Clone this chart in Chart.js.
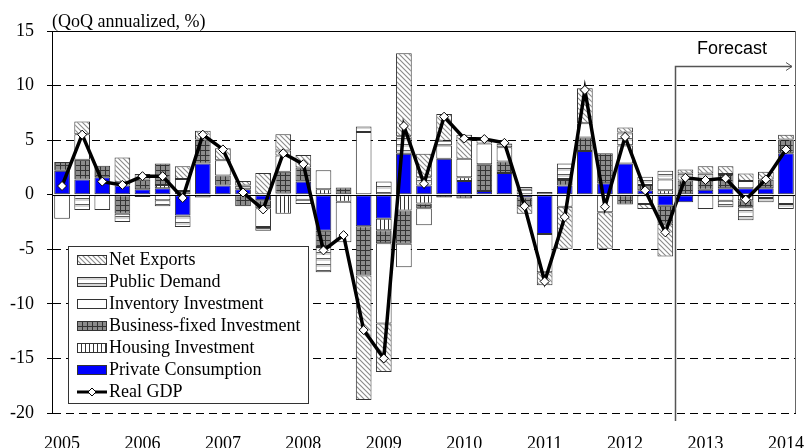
<!DOCTYPE html>
<html>
<head>
<meta charset="utf-8">
<script src="https://cdn.jsdelivr.net/npm/chart.js@4/dist/chart.umd.min.js"></script>
<style>
  html, body { margin: 0; padding: 0; background: #fff; }
  #wrap { position: relative; width: 806px; height: 448px; overflow: hidden; }
  #chart { position: absolute; left: 0; top: 0; }
  .note { position: absolute; white-space: nowrap; color: #000; line-height: 18px; }
  #unit { left: 52px; top: 12px; font-family: 'Liberation Serif', serif; font-size: 18px; }
  #forecast { left: 697px; top: 39px; font-family: 'Liberation Sans', Arial, sans-serif; font-size: 18px; }
  #legend { position: absolute; left: 68px; top: 246px; width: 241px; height: 158px; box-sizing: border-box;
            border: 1px solid #333; background: #fff; padding-top: 1px; }
  .item { display: flex; align-items: flex-start; height: 22px; line-height: 22px;
          font-family: 'Liberation Serif', serif; font-size: 18px; color: #000; white-space: nowrap; }
  .item canvas { margin: 7px 2px 0 8px; }
</style>
</head>
<body>
<div id="wrap">
  <canvas id="chart" width="806" height="448"></canvas>
  <div class="note" id="unit">(QoQ annualized, %)</div>
  <div class="note" id="forecast">Forecast</div>
  <div id="legend"></div>
</div>
<script>
const quarters = [
    '2005Q1', '2005Q2', '2005Q3', '2005Q4', '2006Q1', '2006Q2', '2006Q3', '2006Q4',
    '2007Q1', '2007Q2', '2007Q3', '2007Q4', '2008Q1', '2008Q2', '2008Q3', '2008Q4',
    '2009Q1', '2009Q2', '2009Q3', '2009Q4', '2010Q1', '2010Q2', '2010Q3', '2010Q4',
    '2011Q1', '2011Q2', '2011Q3', '2011Q4', '2012Q1', '2012Q2', '2012Q3', '2012Q4',
    '2013Q1', '2013Q2', '2013Q3', '2013Q4', '2014Q1'
];
const forecastFrom = '2012Q4';

const privateConsumption = [
    2.2, 1.4, 1.6, 0.85, 0.5, 0.6, -1.9, 2.85,
    0.85, 0.5, -0.5, 0.1, 1.2, -3.3, 0, -2.9,
    -2.2, 3.75, 0.85, 3.3, 1.25, 0.35, 2.0, -0.25,
    -3.6, 0.85, 4.0, 1.05, 2.85, 0.4, -1.0, -0.7,
    0.45, 0.6, 0.6, 0.6, 3.8
];
const housingInvestment = [
    0, 0, 0, 0, 0, 0.3, 0, 0,
    0, 0, 0, -1.75, 0, 0.5, -0.65, 0,
    -1.05, -1.45, -0.8, 0, 0.35, 0, 0, 0,
    0, 0, 0, 0, 0, 0, 0.4, 0,
    0, 0, -0.5, 0, 0
];
const businessInvestment = [
    0.8, 1.8, 1.05, -1.75, 0.9, 1.95, 0.35, 2.2,
    0.9, -1.05, -0.75, 2.0, 1.3, -1.5, 0.65, -4.5,
    -1.2, -3.05, -0.45, -0.25, -0.35, 2.45, 1.05, -0.8,
    0, 0.6, 1.25, 2.75, -0.9, 0.5, -1.65, 1.3,
    0.85, 1.3, -0.65, 0.8, 1.25
];
const inventoryInvestment = [
    -2.2, 2.35, -1.4, 0.3, -0.2, -0.5, 1.1, -0.25,
    1.4, 0, -1.7, 1.5, -0.45, 1.75, -3.7, 5.75,
    -7.35, -2.15, -1.55, 1.2, 1.7, 1.9, 1.3, 0.45,
    -3.5, -1.1, 1.3, -1.6, 1.65, -0.85, 1.0, 0,
    -1.3, -0.55, 0.65, -0.3, -0.85
];
const publicDemand = [
    0, -1.4, 0, -0.75, 0.5, -0.55, -1.05, 0,
    -0.15, 0.35, -0.35, 0.45, -0.4, -2.3, 0, 0.5,
    1.2, 1.6, 0.75, 0.45, 0, 0.35, 0.35, 0.25,
    0.25, 1.4, -0.15, 0, 1.2, 0.75, 0.8, 0.65,
    0.65, -0.6, -1.2, -0.4, -0.45
];
const netExports = [
    0, 1.15, 0, 2.25, 0, 0, 1.15, 0.8,
    1.1, 0.4, 2.0, 1.5, 1.15, 0, 0, -11.4,
    -4.45, 7.6, 2.15, 2.45, 2.2, 0, 0, -0.7,
    -1.2, -3.85, 3.2, -3.35, 0.45, -0.45, -3.0, 0.35,
    0.65, 0.7, 0.7, 0.7, 0.45
];
const realGDP = [
    0.8, 5.5, 1.2, 0.9, 1.7, 1.7, -0.3, 5.5,
    4.15, 0.2, -1.35, 3.8, 2.8, -5.1, -3.7, -12.4,
    -15.0, 6.3, 1.0, 7.15, 5.15, 5.1, 4.75, -1.05,
    -7.95, -2.05, 9.6, -1.1, 5.3, 0.4, -3.45, 1.55,
    1.35, 1.5, -0.45, 1.4, 4.15
];

const Y_MIN = -20, Y_MAX = 15, Y_STEP = 5;

// pattern tiles for the stacked components
function makeTile(kind) {
    const c = document.createElement('canvas');
    const g = c.getContext('2d');
    if (kind === 'nx') {
        c.width = 5; c.height = 5;
        g.fillStyle = '#fff'; g.fillRect(0, 0, 5, 5);
        g.strokeStyle = '#8a8a8a'; g.lineWidth = 1.1;
        g.beginPath();
        g.moveTo(0, 0); g.lineTo(5, 5);
        g.moveTo(-1, 4); g.lineTo(1, 6);
        g.moveTo(4, -1); g.lineTo(6, 1);
        g.stroke();
    } else if (kind === 'public') {
        c.width = 1; c.height = 6;
        const rows = ['#5a5a5a', '#d6d6d6', '#d6d6d6', '#ffffff', '#ffffff', '#ffffff'];
        rows.forEach((col, i) => { g.fillStyle = col; g.fillRect(0, i, 1, 1); });
    } else if (kind === 'business') {
        c.width = 5; c.height = 5;
        g.fillStyle = '#8c8c8c'; g.fillRect(0, 0, 5, 5);
        g.fillStyle = '#333'; g.fillRect(0, 0, 5, 1); g.fillRect(0, 0, 1, 5);
    } else if (kind === 'housing') {
        c.width = 4; c.height = 1;
        g.fillStyle = '#fff'; g.fillRect(0, 0, 4, 1);
        g.fillStyle = '#333'; g.fillRect(0, 0, 1, 1);
    }
    return c;
}

function fillFor(ctx, kind) {
    if (kind === 'pc') return '#0000ff';
    if (kind === 'inventory') return '#ffffff';
    return ctx.createPattern(makeTile(kind), 'repeat');
}

const chartCtx = document.getElementById('chart').getContext('2d');

const components = [
    { label: 'Private Consumption', data: privateConsumption, kind: 'pc' },
    { label: 'Housing Investment', data: housingInvestment, kind: 'housing' },
    { label: 'Business-fixed Investment', data: businessInvestment, kind: 'business' },
    { label: 'Inventory Investment', data: inventoryInvestment, kind: 'inventory' },
    { label: 'Public Demand', data: publicDemand, kind: 'public' },
    { label: 'Net Exports', data: netExports, kind: 'nx' }
];

const barSets = components.map(c => ({
    type: 'bar',
    label: c.label,
    data: c.data,
    backgroundColor: fillFor(chartCtx, c.kind),
    borderColor: '#333',
    borderWidth: 1,
    borderSkipped: false,
    barPercentage: 0.78,
    categoryPercentage: 1.0,
    stack: 'demand'
}));

const gdpSet = {
    type: 'line',
    label: 'Real GDP',
    data: realGDP,
    borderColor: '#000',
    borderWidth: 3.5,
    tension: 0,
    pointStyle: 'rectRot',
    pointRadius: 4.5,
    pointBackgroundColor: '#fff',
    pointBorderColor: '#000',
    pointBorderWidth: 1,
    stack: 'gdp'
};

// frame, zero line and forecast marker
const framePlugin = {
    id: 'frame',
    beforeDatasetDraw(chart, args) {
        if (args.index !== 0) return;
        const { ctx, chartArea, scales } = chart;
        const y0 = Math.round(scales.y.getPixelForValue(0)) + 0.5;
        ctx.save();
        ctx.strokeStyle = '#000';
        ctx.lineWidth = 1;
        ctx.beginPath();
        ctx.moveTo(chartArea.left, y0);
        ctx.lineTo(chartArea.right, y0);
        ctx.stroke();
        ctx.restore();
    },
    afterDraw(chart) {
        const { ctx, chartArea, scales } = chart;
        ctx.save();
        ctx.lineWidth = 1;
        ctx.strokeStyle = '#000';
        ctx.beginPath();
        ctx.moveTo(chartArea.left, chartArea.top + 0.5);
        ctx.lineTo(chartArea.right, chartArea.top + 0.5);
        ctx.stroke();
        ctx.strokeStyle = '#666';
        ctx.beginPath();
        ctx.moveTo(chartArea.right - 0.5, chartArea.top);
        ctx.lineTo(chartArea.right - 0.5, chartArea.bottom);
        ctx.stroke();

        const fi = quarters.indexOf(forecastFrom);
        const fx = Math.round((scales.x.getPixelForValue(fi - 1) + scales.x.getPixelForValue(fi)) / 2) + 0.5;
        const ay = chartArea.top + 35.5;
        const ax = chartArea.right - 4;
        ctx.strokeStyle = '#555';
        ctx.lineWidth = 1.5;
        ctx.beginPath();
        ctx.moveTo(fx, chartArea.bottom + 8);
        ctx.lineTo(fx, ay);
        ctx.lineTo(ax, ay);
        ctx.stroke();
        ctx.lineWidth = 1;
        ctx.beginPath();
        ctx.moveTo(ax - 6, ay - 4);
        ctx.lineTo(ax, ay);
        ctx.lineTo(ax - 6, ay + 4);
        ctx.stroke();
        ctx.restore();
    }
};

Chart.defaults.font.family = "'Liberation Serif', 'Times New Roman', serif";
Chart.defaults.font.size = 18;
Chart.defaults.color = '#000';

new Chart(chartCtx, {
    data: {
        labels: quarters,
        datasets: [gdpSet, ...barSets]
    },
    options: {
        responsive: false,
        animation: false,
        layout: { padding: { left: 0, right: 10, top: 31, bottom: 0 } },
        plugins: {
            legend: { display: false },
            tooltip: { enabled: false }
        },
        scales: {
            x: {
                stacked: true,
                grid: { display: false },
                border: { display: false },
                ticks: {
                    autoSkip: false,
                    maxRotation: 0,
                    padding: 12,
                    callback: (v, i) => quarters[i].endsWith('Q1') ? quarters[i].slice(0, 4) : ''
                },
                afterFit: s => { s.height = 35; s.paddingLeft = 0; s.paddingRight = 0; }
            },
            y: {
                stacked: true,
                min: Y_MIN,
                max: Y_MAX,
                ticks: { stepSize: Y_STEP, padding: 13 },
                grid: {
                    color: c => (c.tick && (c.tick.value === 0 || c.tick.value === Y_MAX)) ? 'rgba(0,0,0,0)' : '#000',
                    tickColor: '#000',
                    tickLength: 5,
                    lineWidth: 1
                },
                border: { display: true, color: '#000', width: 1, dash: [8, 5] },
                afterFit: s => { s.width = 52; s.paddingTop = 0; s.paddingBottom = 0; }
            }
        }
    },
    plugins: [framePlugin]
});

// legend (reverse of stacking order, then the GDP line)
function drawSwatch(kind) {
    const c = document.createElement('canvas');
    c.width = 30; c.height = 10;
    const g = c.getContext('2d');
    if (kind === 'gdp') {
        g.strokeStyle = '#000'; g.lineWidth = 3;
        g.beginPath(); g.moveTo(0, 5); g.lineTo(30, 5); g.stroke();
        g.fillStyle = '#fff'; g.lineWidth = 1;
        g.beginPath(); g.moveTo(15, 1); g.lineTo(19, 5); g.lineTo(15, 9); g.lineTo(11, 5); g.closePath();
        g.fill(); g.stroke();
    } else {
        g.fillStyle = fillFor(g, kind);
        g.fillRect(0, 0, 30, 10);
        g.strokeStyle = '#333'; g.lineWidth = 1;
        g.strokeRect(0.5, 0.5, 29, 9);
    }
    return c;
}

const legendEl = document.getElementById('legend');
const legendItems = components.slice().reverse().concat([{ label: 'Real GDP', kind: 'gdp' }]);
legendItems.forEach(it => {
    const row = document.createElement('div');
    row.className = 'item';
    row.appendChild(drawSwatch(it.kind));
    const span = document.createElement('span');
    span.textContent = it.label;
    row.appendChild(span);
    legendEl.appendChild(row);
});
</script>
</body>
</html>
